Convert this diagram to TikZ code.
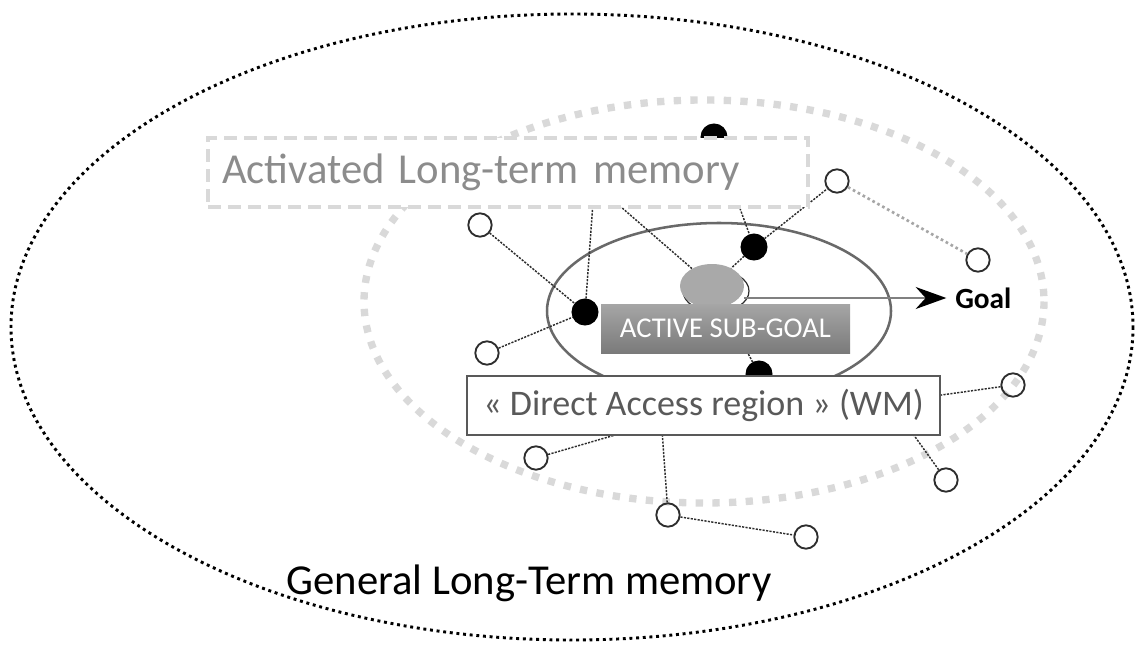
\documentclass[tikz,border=0pt]{standalone}
\usepackage{fontspec}
\setmainfont{Carlito}
\usepackage{tikz}
\usetikzlibrary{shapes.geometric,arrows.meta}

\definecolor{ltmgrey}{RGB}{217,217,217}
\definecolor{actgrey}{RGB}{140,140,140}
\definecolor{wmgrey}{RGB}{89,89,89}
\definecolor{linkgrey}{RGB}{45,45,45}
\definecolor{rimgrey}{RGB}{105,105,105}
\definecolor{sggrey}{RGB}{169,169,169}

\begin{document}
\begin{tikzpicture}[x=0.75pt,y=0.75pt,yscale=-1,xscale=1,
    blackdot/.style={circle,draw=black,fill=black,line width=0.75pt,minimum size=19.5pt,inner sep=0pt},
    opendot/.style={circle,draw=linkgrey,line width=1.4pt,minimum size=17.5pt,inner sep=0pt},
    link/.style={draw=linkgrey,line width=1.1pt,dash pattern=on 1.6pt off 1pt},
    greylink/.style={draw=black!35,line width=2pt,dash pattern=on 2pt off 2.2pt},
    actbox/.style={draw=ltmgrey,fill=white,line width=3pt,dash pattern=on 10pt off 5pt,
        text=actgrey,font=\fontsize{32}{38}\selectfont,minimum height=51.75pt,
        text width=429pt,inner xsep=10.5pt,align=left},
    wmbox/.style={draw=wmgrey,fill=white,line width=1.8pt,text=wmgrey,
        font=\fontsize{27}{32}\selectfont,minimum width=354.75pt,minimum height=44.25pt},
    subgoalbox/.style={top color=black!35,bottom color=black!52,draw=none,text=white,
        font=\fontsize{21.5}{26}\selectfont,minimum width=186.75pt,minimum height=36.75pt},
    sgoal/.style={ellipse,fill=sggrey,draw=none,minimum width=48pt,minimum height=33pt}]
    %uncomment if require: \path (0,646); %set diagram left start at 0, and has height of 646
    \useasboundingbox (0,0) rectangle (1135,646);

    %Shape: Ellipse (general long-term memory)
    \draw [line width=2.2pt,dash pattern=on 2.2pt off 2.8pt] (572,327) ellipse [x radius=561, y radius=313];
    %Shape: Ellipse (activated long-term memory)
    \draw [draw=ltmgrey,line width=5.5pt,dash pattern=on 5.5pt off 7pt] (704,301.5) ellipse [x radius=340, y radius=201.5];
    %Shape: Ellipse (direct access region)
    \draw [draw=rimgrey,line width=1.9pt] (719,311) ellipse [x radius=172, y radius=88];

    %Shape: Ellipse (sub-goal rim)
    \draw [draw=linkgrey,line width=0.9pt] (716,291) ellipse [x radius=33, y radius=21];
    \node [sgoal] (sg) at (712,286) {};

    %Flowchart: Connector
    \node [blackdot] (b1) at (714,137) {};
    \node [blackdot] (b2) at (754,247) {};
    \node [blackdot] (b3) at (585,312) {};
    \node [blackdot] (b4) at (759,374) {};
    \node [opendot] (w1) at (480,225) {};
    \node [opendot] (w2) at (837,181) {};
    \node [opendot] (w3) at (978,260) {};
    \node [opendot] (w4) at (487,353) {};
    \node [opendot] (w5) at (1013,385) {};
    \node [opendot] (w6) at (536,458) {};
    \node [opendot] (w7) at (946,480) {};
    \node [opendot] (w8) at (668,515) {};
    \node [opendot] (w9) at (806,537) {};

    % hidden ends behind the boxes
    \coordinate (h1) at (595,175);
    \coordinate (h2) at (598,187);
    \coordinate (h3) at (653,424);
    \coordinate (h4) at (661,415);
    \coordinate (h5) at (903,420);
    \coordinate (h6) at (920,398);

    %Straight Lines
    \draw [link] (b1) -- (b2);
    \draw [link] (b2) -- (w2);
    \draw [link] (b2) -- (sg);
    \draw [link] (w1) -- (b3);
    \draw [link] (w4) -- (b3);
    \draw [link] (b3) -- (h1);
    \draw [link] (sg) -- (h2);
    \draw [link] (b4) -- (sg);
    \draw [link] (w6) -- (h3);
    \draw [link] (w8) -- (h4);
    \draw [link] (w8) -- (w9);
    \draw [link] (w7) -- (h5);
    \draw [link] (w5) -- (h6);
    \draw [greylink] (w2) -- (w3);

    % Text Node
    \node [anchor=west,inner sep=0pt,font=\bfseries\fontsize{22}{26}\selectfont] (goal) at (955,298) {Goal};
    %Straight Lines (arrow to goal)
    \draw [draw=black!50,line width=1.5pt,shorten >=6.5pt,-{Stealth[length=23pt,width=16.5pt,black]}] (sg.east |- goal.west) -- (goal.west);

    % Text Node
    \node [actbox] (actltm) at (508,172.5) {Activated Long-term memory};
    % Text Node
    \node [wmbox] (wm) at (703.5,405.5) {« Direct Access region » (WM)};
    % Text Node
    \node [subgoalbox] (activesg) at (725.5,328.5) {ACTIVE SUB-GOAL};
    % Text Node
    \node [font=\fontsize{32}{38}\selectfont] (genltm) at (529,583) {General Long-Term memory};

\end{tikzpicture}
\end{document}
